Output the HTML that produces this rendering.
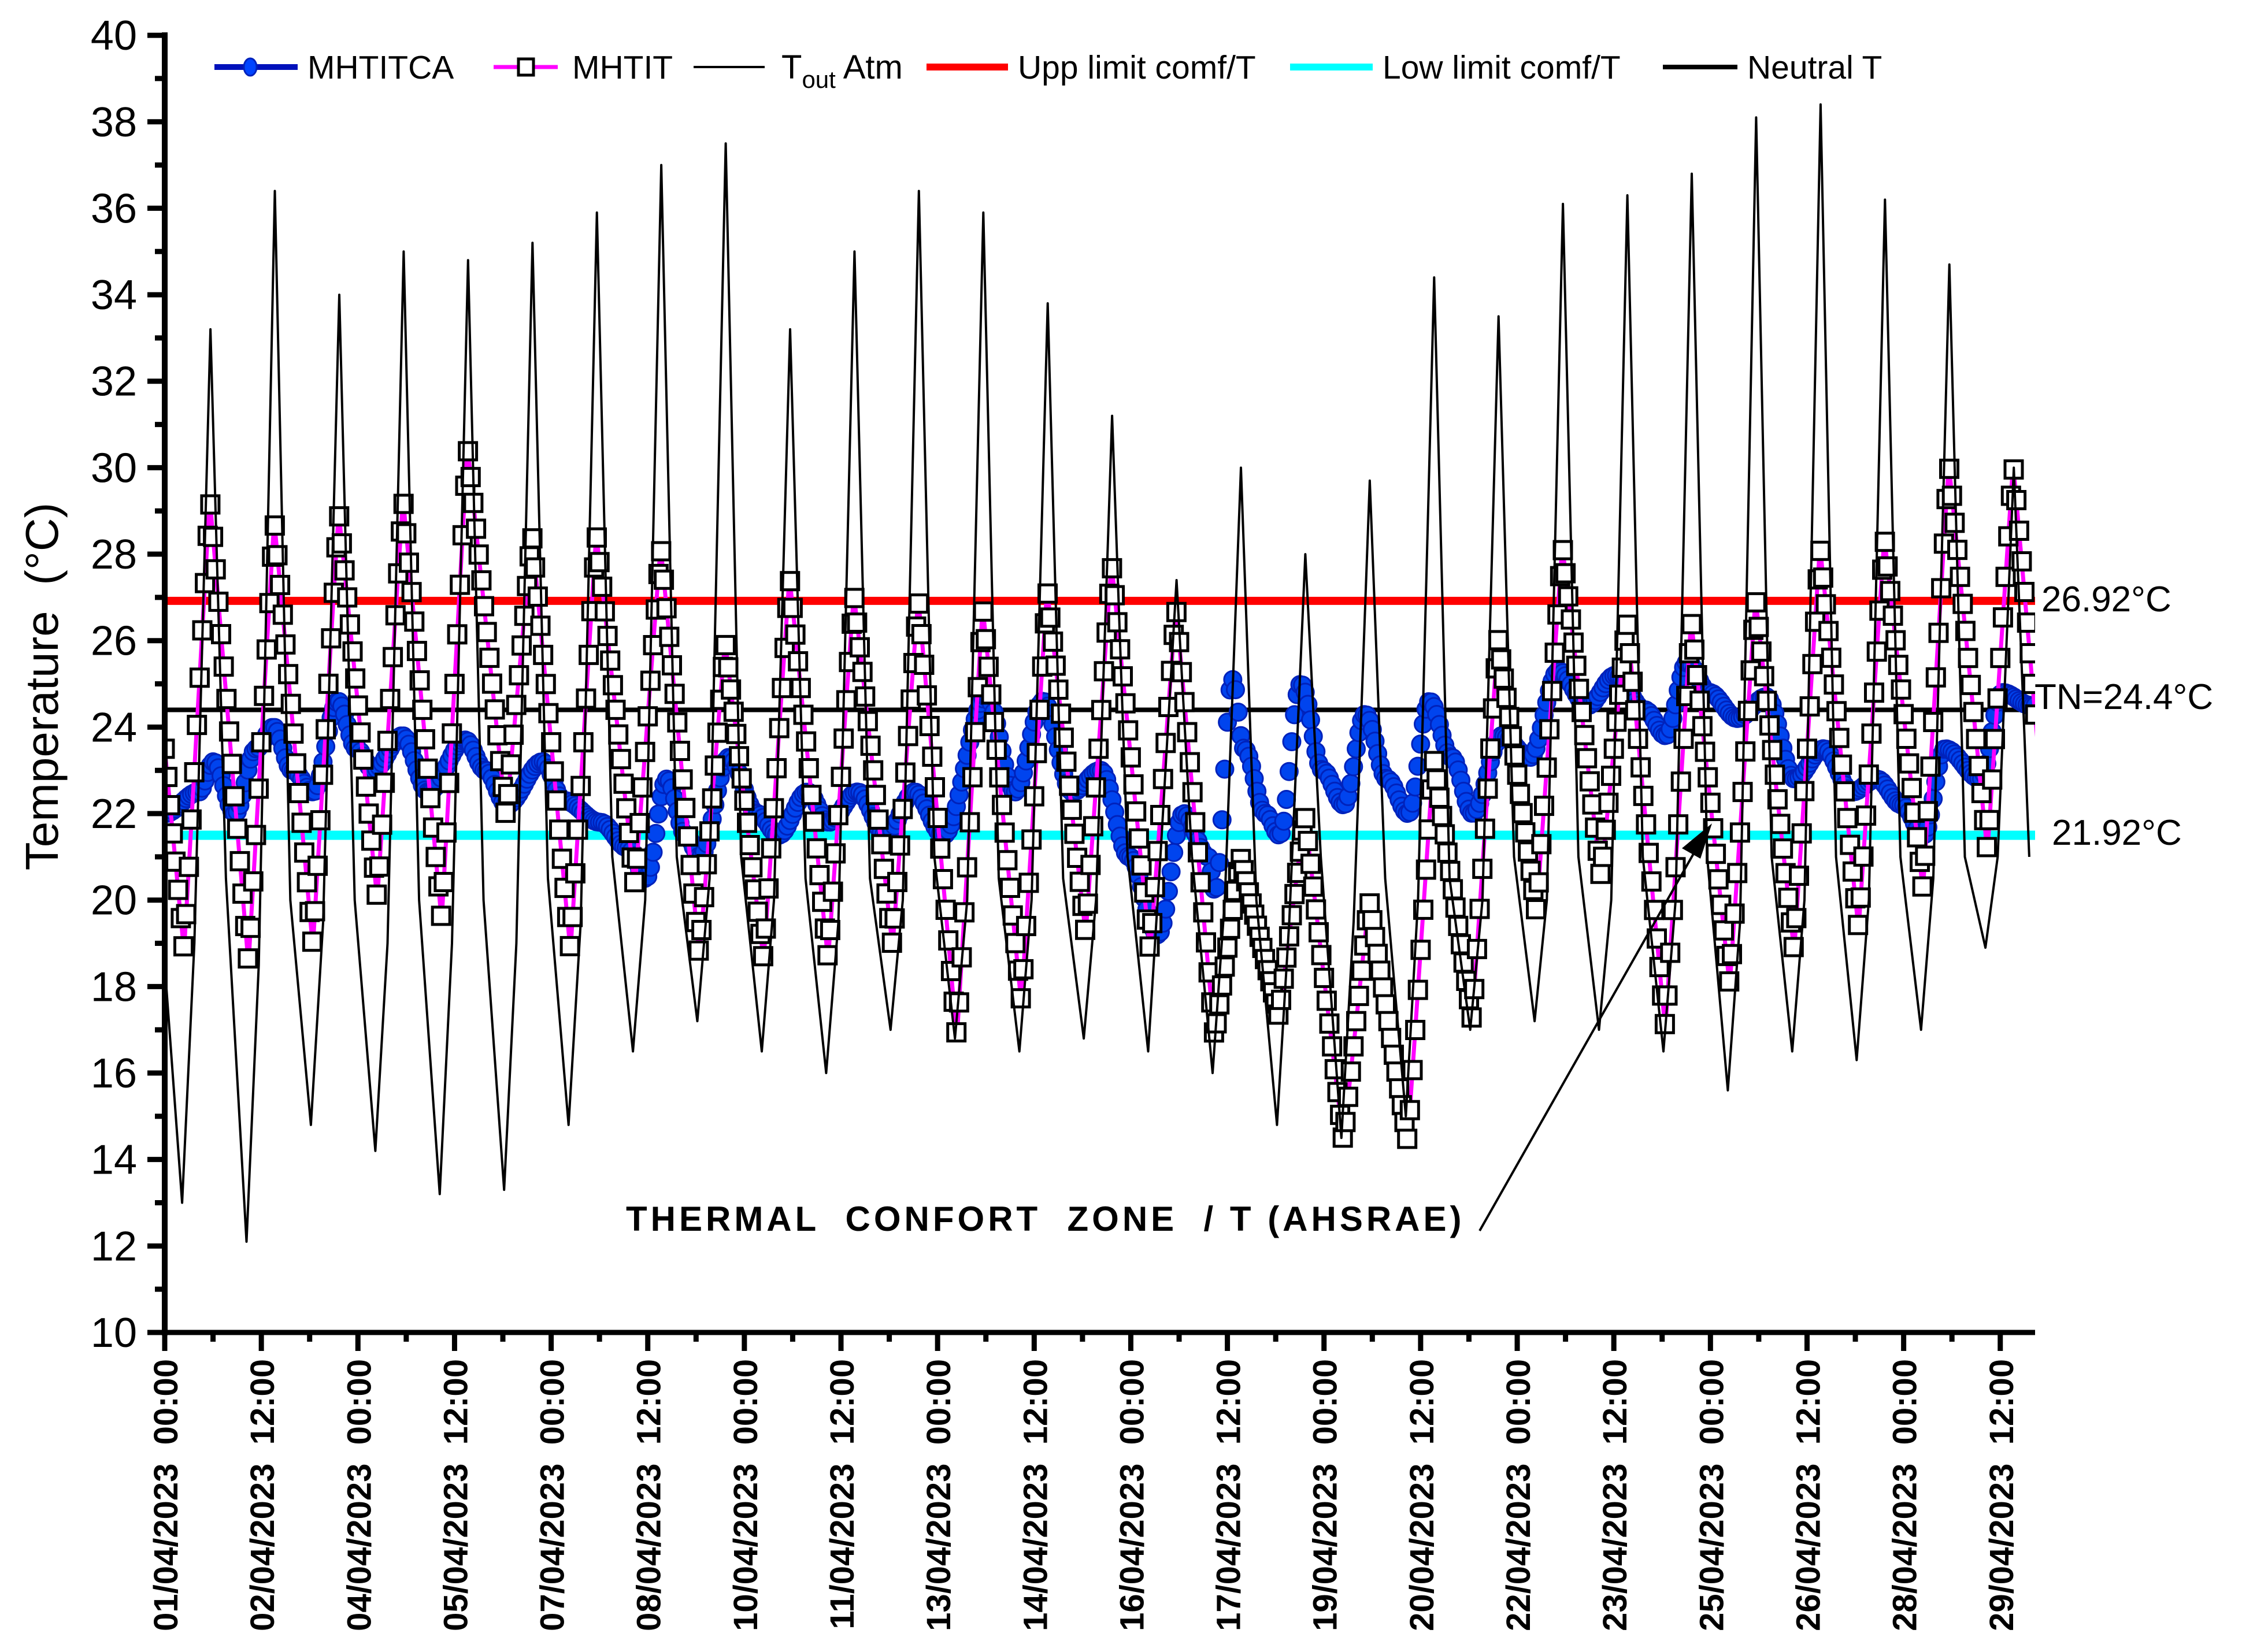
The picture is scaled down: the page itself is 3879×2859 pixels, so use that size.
<!DOCTYPE html>
<html><head><meta charset="utf-8">
<style>
html,body{margin:0;padding:0;background:#fff;}
svg{display:block;font-family:"Liberation Sans",Arial,sans-serif;}
text{white-space:pre;}
</style></head>
<body>
<svg id="chart" width="3879" height="2859" viewBox="0 0 3879 2859" xmlns="http://www.w3.org/2000/svg">
<rect width="3879" height="2859" fill="#fff"/>
<defs><clipPath id="plotclip"><rect x="285" y="40" width="3236" height="2266"/></clipPath></defs>
<g id="plot" clip-path="url(#plotclip)"></g>
<g id="axes"></g>
<g id="legend"></g>
</svg>
<script>
// ---- data ----
const xTickLabels = ["01/04/2023  00:00","02/04/2023  12:00","04/04/2023  00:00","05/04/2023  12:00","07/04/2023  00:00","08/04/2023  12:00","10/04/2023  00:00","11/04/2023  12:00","13/04/2023  00:00","14/04/2023  12:00","16/04/2023  00:00","17/04/2023  12:00","19/04/2023  00:00","20/04/2023  12:00","22/04/2023  00:00","23/04/2023  12:00","25/04/2023  00:00","26/04/2023  12:00","28/04/2023  00:00","29/04/2023  12:00"];
const yTicks = [10,12,14,16,18,20,22,24,26,28,30,32,34,36,38,40];
const toutMin = [13,12.1,14.8,14.2,13.2,13.3,14.8,16.5,17.2,16.5,16,17,16.8,16.5,16.8,16.5,16,14.8,14.5,15,17,17.2,17,16.5,15.6,16.5,16.3,17,18.9];
const toutMorn = [19,18.5,19.5,19,19,19,19.5,20,20.5,20,19.5,20,20,20,20,21,20,19.5,19.5,20,20,20,20,20,19.5,20,20,20.5,21];
const toutMax = [33.2,36.4,34,35,34.8,35.2,35.9,37,37.5,33.2,35,36.4,35.9,33.8,31.2,27.4,30,28,29.7,34.4,33.5,36.1,36.3,36.8,38.1,38.4,36.2,34.7,30];
const toutEve = [20.5,20,20,20,20,20.5,21,21,21,20.5,20.5,21,20.5,20.5,21,21,20,21,20.5,20.5,21,21,21,21,21,21,21,21,21];
const mhtitMax = [29.3,28.8,29,29.3,30.5,28.5,28.5,28.2,26,27.5,27.1,27,26.8,27.2,27.8,26.8,21,22,20,23.3,26.1,28.2,26.5,26.5,27,28.2,28.4,30.1,30.1];
const mhtitMin = [18.8,18.5,18.9,20,19.5,21.9,18.8,20.3,18.7,18.6,18.6,18.9,16.8,17.6,19.2,18.8,16.8,17.3,14.4,14.4,17.2,19.7,20.5,17,18,18.8,19.3,20.2,21.1];
const mhtitcaDays = [0,0.53,0.76,1.09,1.42,1.69,1.98,2.31,2.69,2.98,3.24,3.69,4.09,4.67,4.98,5.31,5.87,6.2,6.76,7.2,7.47,7.8,8.09,8.31,8.76,9.2,9.53,9.98,10.31,10.76,11.2,11.64,12.09,12.76,13.2,13.64,14.09,14.53,14.98,15.42,15.82,16.2,16.31,16.58,16.76,17.09,17.31,17.64,17.98,18.31,18.64,18.98,19.31,19.64,19.98,20.31,20.76,21.2,21.64,22.09,22.53,22.98,23.31,23.64,23.98,24.42,24.87,25.31,25.76,26.2,26.58,26.98,27.31,27.64,28.2,28.53,28.98,29.1];
const mhtitcaVals = [22,22.5,23.2,22,23.5,24,23,22.5,24.6,23.5,23,23.8,22.5,23.7,23,22.2,23.2,22.3,21.8,21.2,20.5,22.8,21.5,21,23.3,22,21.5,22.5,21.8,22.5,21.5,22.5,21.5,24.7,22.5,24.6,22.5,23,21,19.2,22,21,20.2,25.1,23.5,22,21.5,25,23,22.2,24.3,22.8,22,24.6,23.3,22,23.8,23.3,25.3,24.5,25.2,24.4,23.8,25.5,24.8,24.2,24.7,22.8,23.5,22.5,22.8,22.2,21.5,23.5,22.8,24.8,24.5,24.5];
const upperLimit = 26.92, neutralT = 24.4, lowerLimit = 21.5;

// ---- scales ----
const X0=285, PXDAY=111.43, Y0=2306, PXDEG=74.83;
const xs = d => X0 + d*PXDAY;
const ys = v => Y0 - (v-10)*PXDEG;
const NS="http://www.w3.org/2000/svg";
function mk(tag, attrs, parent){const e=document.createElementNS(NS,tag);for(const k in attrs)e.setAttribute(k,attrs[k]);parent.appendChild(e);return e;}
const plot=document.getElementById('plot'), axes=document.getElementById('axes'), legend=document.getElementById('legend');

// reference lines
let ln=mk('line',{x1:285,x2:3521,y1:ys(upperLimit),y2:ys(upperLimit),stroke:'#ff0000','stroke-width':14},plot);


ln=mk('line',{x1:285,x2:3521,y1:ys(neutralT),y2:ys(neutralT),stroke:'#000','stroke-width':8},plot);


ln=mk('line',{x1:285,x2:3521,y1:ys(lowerLimit),y2:ys(lowerLimit),stroke:'#00ffff','stroke-width':16},plot);



// MHTITCA (blue circles)
function interp(ts, vs, t){ if(t<=ts[0])return vs[0]; for(let i=1;i<ts.length;i++){ if(t<=ts[i]){const f=(t-ts[i-1])/(ts[i]-ts[i-1]); const g=(1-Math.cos(Math.PI*f))/2; return vs[i-1]+(vs[i]-vs[i-1])*g;} } return vs[vs.length-1]; }
const gBlue=mk('g',{},plot);


for(let t=0;t<=29.05;t+=1/24){
  const c=mk('circle',{cx:xs(t).toFixed(1),cy:ys(interp(mhtitcaDays,mhtitcaVals,t)).toFixed(1),r:15,fill:'#0044ee',stroke:'#0022bb','stroke-width':3},gBlue);
  
  
}

// MHTIT (magenta + squares)
const mT=[0], mV=[23.5];
for(let i=0;i<mhtitMax.length;i++){ mT.push(i+0.3); mV.push(mhtitMin[i]); mT.push(i+0.7); mV.push(mhtitMax[i]); }
mT.push(29.1); mV.push(23.3);
function lin(ts,vs,t){ if(t<=ts[0])return vs[0]; for(let i=1;i<ts.length;i++){ if(t<=ts[i]){const f=(t-ts[i-1])/(ts[i]-ts[i-1]); return vs[i-1]+(vs[i]-vs[i-1])*f;} } return vs[vs.length-1]; }
const mpath=mk('polyline',{points:mT.map((t,i)=>xs(t).toFixed(1)+','+ys(mV[i]).toFixed(1)).join(' '),fill:'none',stroke:'#ff00ff','stroke-width':7},plot);


const gSq=mk('g',{},plot);


for(let t=0;t<=29.05;t+=1/24){
  const x=xs(t), y=ys(lin(mT,mV,t));
  const s=mk('rect',{x:(x-15).toFixed(1),y:(y-15).toFixed(1),width:30,height:30,fill:'#fff',stroke:'#000','stroke-width':5},gSq);
  
  
}

// Tout Atm
const tT=[0], tV=[18.5];
for(let i=0;i<toutMax.length;i++){
  tT.push(i+0.27); tV.push(toutMin[i]);
  tT.push(i+0.46); tV.push(toutMorn[i]);
  tT.push(i+0.71); tV.push(toutMax[i]);
  tT.push(i+0.95); tV.push(toutEve[i]);
}
const tline=mk('polyline',{points:tT.map((t,i)=>xs(t).toFixed(1)+','+ys(tV[i]).toFixed(1)).join(' '),fill:'none',stroke:'#000','stroke-width':4,'stroke-linejoin':'round'},plot);



// ---- axes ----
let a=mk('line',{x1:285,y1:56,x2:285,y2:2311,stroke:'#000','stroke-width':10},axes);


a=mk('line',{x1:255,y1:2306,x2:3521,y2:2306,stroke:'#000','stroke-width':9},axes);


for(let v=10;v<=40;v++){
  const major=(v%2===0);
  mk('line',{x1:major?255:268,x2:285,y1:ys(v),y2:ys(v),stroke:'#000','stroke-width':9},axes);
}
yTicks.forEach(v=>{
  const t=mk('text',{x:237,y:ys(v)+25,'text-anchor':'end','font-size':72},axes);
  t.textContent=v;
  
  
});
for(let k=0;k<=38;k++){
  const x=xs(k*0.75), major=(k%2===0);
  mk('line',{x1:x,x2:x,y1:2306,y2:major?2338:2322,stroke:'#000','stroke-width':9},axes);
}
xTickLabels.forEach((lab,i)=>{
  const x=xs(i*1.5)+22;
  const t=mk('text',{x:x,y:2352,transform:`rotate(-90 ${x} 2352)`,'text-anchor':'end','font-size':58,'font-weight':'bold'},axes);
  t.textContent=lab;
  
  
});
const yt=mk('text',{x:100,y:1188,transform:'rotate(-90 100 1188)','text-anchor':'middle','font-size':80},axes);
yt.textContent='Temperature  (°C)';



// right-side labels
[["26.92°C",3532,1058,'upper-limit-label'],["TN=24.4°C",3520,1227,'neutral-temperature-label'],["21.92°C",3550,1462,'lower-limit-label']].forEach(r=>{
  const t=mk('text',{x:r[1],y:r[2],'font-size':62},axes);
  t.textContent=r[0];
  
  
});

// annotation
const ann=mk('text',{x:1083,y:2130,'font-size':60,'font-weight':'bold','letter-spacing':6},axes);
ann.textContent='THERMAL  CONFORT  ZONE  / T (AHSRAE)';


const arr=mk('line',{x1:2560,y1:2130,x2:2940,y2:1460,stroke:'#000','stroke-width':4},axes);


const ah=mk('polygon',{points:'2962,1425 2910,1468 2942,1486',fill:'#000'},axes);



// ---- legend ----
const LY=116;
function legText(x,txt,name){const t=mk('text',{x:x,y:LY+20,'font-size':57},legend);t.textContent=txt;return t;}
mk('line',{x1:371,x2:515,y1:LY,y2:LY,stroke:'#0011bb','stroke-width':10},legend);
mk('ellipse',{cx:433,cy:LY,rx:11,ry:15,fill:'#0044ff',stroke:'#0022bb','stroke-width':3},legend);
legText(532,'MHTITCA','legend-mhtitca');
mk('line',{x1:854,x2:965,y1:LY,y2:LY,stroke:'#ff00ff','stroke-width':7},legend);
mk('rect',{x:897,y:LY-14,width:26,height:28,fill:'#fff',stroke:'#000','stroke-width':5},legend);
legText(990,'MHTIT','legend-mhtit');
mk('line',{x1:1200,x2:1323,y1:LY,y2:LY,stroke:'#000','stroke-width':4},legend);
const tt=mk('text',{x:1352,y:LY+20,'font-size':58},legend);


tt.innerHTML='T<tspan font-size="42" dy="16">out</tspan><tspan dy="-16"> Atm</tspan>';
mk('line',{x1:1603,x2:1744,y1:LY,y2:LY,stroke:'#ff0000','stroke-width':12},legend);
legText(1761,'Upp limit comf/T','legend-upper-limit');
mk('line',{x1:2232,x2:2375,y1:LY,y2:LY,stroke:'#00ffff','stroke-width':12},legend);
legText(2392,'Low limit comf/T','legend-lower-limit');
mk('line',{x1:2877,x2:3006,y1:LY,y2:LY,stroke:'#000','stroke-width':8},legend);
legText(3023,'Neutral T','legend-neutral-t');
</script>
</body></html>
